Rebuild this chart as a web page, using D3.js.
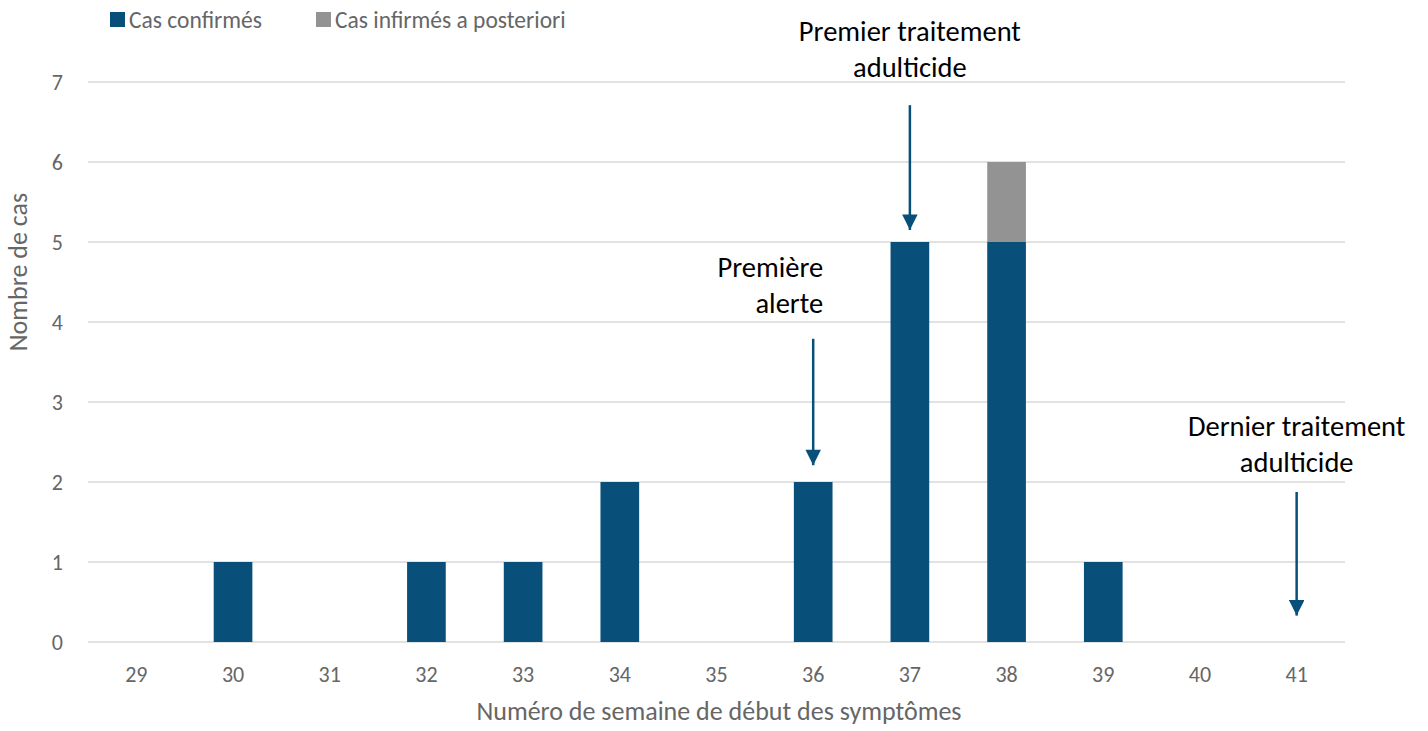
<!DOCTYPE html>
<html lang="fr">
<head>
<meta charset="UTF-8">
<title>Cas par semaine</title>
<script src="https://d3js.org/d3.v7.min.js"></script>
<style>
  body { margin: 0; background: #fff; }
  svg text { font-family: Carlito, Lato, sans-serif; }
</style>
</head>
<body>
<div id="chart"></div>
<script>
// data
const weeks = ["29","30","31","32","33","34","35","36","37","38","39","40","41"]
const confirmed = [0,1,0,1,1,2,0,2,5,5,1,0,0]
const infirmed  = [0,0,0,0,0,0,0,0,0,1,0,0,0]
const seriesNames = ["Cas confirmés", "Cas infirmés a posteriori"]
const yTicks = [0,1,2,3,4,5,6,7]
// annotations: label baseline, arrow start and arrow tip, in case units
const notes = [
  {week: "36", lines: ["Première", "alerte"], anchor: "end", label: 4.11, from: 3.79, to: 2.21},
  {week: "37", lines: ["Premier traitement", "adulticide"], anchor: "middle", label: 7.06, from: 6.71, to: 5.15},
  {week: "41", lines: ["Dernier traitement", "adulticide"], anchor: "middle", label: 2.125, from: 1.875, to: 0.33}
]

const colors = ["#08507a", "#939393"]
const width = 1428, height = 731
const margin = {top: 82, right: 83, bottom: 89, left: 88}

const svg = d3.select("#chart").append("svg")
  .attr("width", width).attr("height", height)

const x = d3.scaleBand()
  .domain(weeks)
  .range([margin.left, width - margin.right])
  .paddingInner(0.6).paddingOuter(0.3)

const y = d3.scaleLinear()
  .domain([0, 7])
  .range([height - margin.bottom, margin.top])

// gridlines
svg.append("g")
  .selectAll("line")
  .data(yTicks)
  .join("line")
  .attr("x1", margin.left).attr("x2", width - margin.right)
  .attr("y1", d => y(d)).attr("y2", d => y(d))
  .attr("stroke", "#d9d9d9").attr("stroke-width", 1.3)

// y tick labels
svg.append("g")
  .selectAll("text")
  .data(yTicks)
  .join("text")
  .attr("x", 63).attr("y", d => y(d))
  .attr("dy", "0.35em")
  .attr("text-anchor", "end")
  .attr("fill", "#666")
  .style("font-size", "22px")
  .text(d => d)

// x tick labels
svg.append("g")
  .selectAll("text")
  .data(weeks)
  .join("text")
  .attr("x", d => x(d) + x.bandwidth() / 2)
  .attr("y", height - margin.bottom + 40)
  .attr("text-anchor", "middle")
  .attr("fill", "#666")
  .style("font-size", "22px")
  .text(d => d)

// stacked bars
const rows = weeks.map((w, i) => ({week: w, a: confirmed[i], b: infirmed[i]}))
const stack = d3.stack().keys(["a", "b"])(rows)

svg.append("g")
  .selectAll("g")
  .data(stack)
  .join("g")
  .attr("fill", (d, i) => colors[i])
  .selectAll("rect")
  .data(d => d.filter(s => s[1] > s[0]))
  .join("rect")
  .attr("x", d => x(d.data.week))
  .attr("width", x.bandwidth())
  .attr("y", d => y(d[1]))
  .attr("height", d => y(d[0]) - y(d[1]))

// axis titles
svg.append("text")
  .attr("x", 719)
  .attr("y", 720)
  .attr("text-anchor", "middle")
  .attr("fill", "#666")
  .style("font-size", "26px")
  .text("Numéro de semaine de début des symptômes")

svg.append("text")
  .attr("transform", "translate(27,272) rotate(-90)")
  .attr("text-anchor", "middle")
  .attr("fill", "#666")
  .style("font-size", "26px")
  .text("Nombre de cas")

// legend
const legend = svg.append("g")
const legendX = [110, 316]
seriesNames.forEach((n, i) => {
  legend.append("rect")
    .attr("x", legendX[i]).attr("y", 12)
    .attr("width", 15).attr("height", 15)
    .attr("fill", colors[i])
  legend.append("text")
    .attr("x", legendX[i] + 19).attr("y", 20)
    .attr("dy", "0.35em")
    .attr("fill", "#666")
    .style("font-size", "23.5px")
    .text(n)
})

// arrow head
svg.append("defs").append("marker")
  .attr("id", "head")
  .attr("viewBox", "0 0 10 10")
  .attr("refX", 10).attr("refY", 5)
  .attr("markerWidth", 6.8).attr("markerHeight", 6.2)
  .attr("markerUnits", "strokeWidth")
  .attr("orient", "auto")
  .append("path")
  .attr("d", "M0,0 L10,5 L0,10 Z")
  .attr("fill", colors[0])

// annotations
notes.forEach(n => {
  const cx = x(n.week) + x.bandwidth() / 2
  svg.append("line")
    .attr("x1", cx).attr("x2", cx)
    .attr("y1", y(n.from)).attr("y2", y(n.to))
    .attr("stroke", colors[0]).attr("stroke-width", 2.5)
    .attr("marker-end", "url(#head)")
  const tx = n.anchor === "end" ? cx + 10 : cx
  n.lines.slice().reverse().forEach((l, j) => {
    svg.append("text")
      .attr("x", tx)
      .attr("y", y(n.label) - j * 36)
      .attr("text-anchor", n.anchor)
      .attr("fill", "#000")
      .style("font-size", "28.5px")
      .text(l)
  })
})
</script>
</body>
</html>
